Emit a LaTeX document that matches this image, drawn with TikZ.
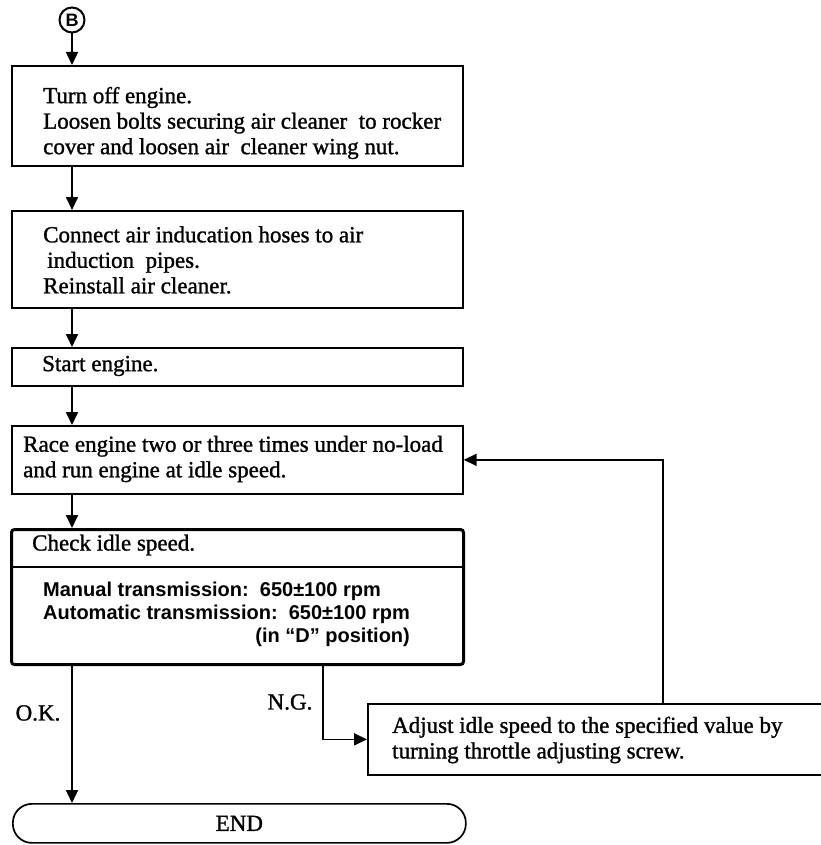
\documentclass[tikz,border=0pt]{standalone}
\usepackage{fontspec}
\setmainfont[FakeBold=1.2]{Liberation Serif}
\setsansfont{Liberation Sans}
\usetikzlibrary{arrows.meta}

\newcommand{\stepfont}{\fontsize{23}{25.5}\selectfont}
\newcommand{\specfont}{\sffamily\bfseries\fontsize{20}{23}\selectfont}

\tikzset{
  stepbox/.style={draw, line width=1.7pt, anchor=north west, inner sep=0pt},
  steptext/.style={anchor=west, align=left, inner sep=0pt, font=\stepfont},
  flow/.style={line width=1.7pt, -{Triangle[width=12pt,length=13pt]}},
}

\begin{document}
\begin{tikzpicture}[x=1pt, y=-1pt]
\useasboundingbox (0,0) rectangle (820,845);

% Column of the main flow
\coordinate (col) at (72,0);

% Entry connector
\node[circle, draw, line width=2pt, minimum size=25pt, inner sep=0pt, font=\sffamily\bfseries\fontsize{18}{18}\selectfont] (entry) at (72,20) {B};

% Step boxes
\node[stepbox, minimum width=451pt, minimum height=100pt] (off) at (11,65) {};
\node[steptext] (offtext) at (43,123) {Turn off engine.\\Loosen bolts securing air cleaner\ \ to rocker\\cover and loosen air\ \ cleaner wing nut.};

\node[stepbox, minimum width=451pt, minimum height=97pt] (hose) at (11,210) {};
\node[steptext] (hosetext) at (43,260) {Connect air inducation hoses to air\\\hspace*{4pt}induction\ \ pipes.\\Reinstall air cleaner.};

\node[stepbox, minimum width=451pt, minimum height=38pt] (start) at (11,347) {};
\node[steptext] (starttext) at (42,366) {Start engine.};

\node[stepbox, minimum width=451pt, minimum height=68pt] (race) at (11,425) {};
\node[steptext] (racetext) at (23,459) {Race engine two or three times under no-load\\and run engine at idle speed.};

% Check box with its value part
\node[stepbox, line width=3pt, rounded corners=3pt, minimum width=452pt, minimum height=135pt] (check) at (10,528) {};
\coordinate (div) at (0,567);
\draw[line width=2.6pt] (check.west |- div) -- (check.east |- div);
\node[steptext] (checktext) at (32,545) {Check idle speed.};
\node[anchor=west, inner sep=0pt, font=\specfont] (spec) at (43,615) {%
  \begin{tabular}{@{}l@{}}
  Manual transmission:\ \ 650±100 rpm\\
  Automatic transmission:\ \ 650±100 rpm\\
  \multicolumn{1}{@{}r@{}}{(in “D” position)}
  \end{tabular}};

\node[stepbox, minimum width=470pt, minimum height=71pt] (adj) at (367,703) {};
\node[steptext] (adjtext) at (392,740) {Adjust idle speed to the specified value by\\turning throttle adjusting screw.};

\node[stepbox, rounded corners=19pt, minimum width=453pt, minimum height=39pt, font=\stepfont] (finish) at (12,803) {END};

% Branch labels
\node[font=\stepfont, inner sep=0pt] (ok) at (38,713) {O.K.};
\node[font=\stepfont, inner sep=0pt] (ng) at (290,702) {N.G.};

% Main flow
\draw[flow] (entry) -- (off.north -| col);
\draw[flow] (off.south -| col) -- (hose.north -| col);
\draw[flow] (hose.south -| col) -- (start.north -| col);
\draw[flow] (start.south -| col) -- (race.north -| col);
\draw[flow] (race.south -| col) -- (check.north -| col);
\draw[flow] (check.south -| col) -- (finish.north -| col);

% N.G. branch and loop back
\coordinate (ngstart) at (323,663);
\coordinate (back) at (663,703);
\draw[flow] (ngstart) |- (adj.west);
\draw[flow] (back) |- (race.east);

\end{tikzpicture}
\end{document}
